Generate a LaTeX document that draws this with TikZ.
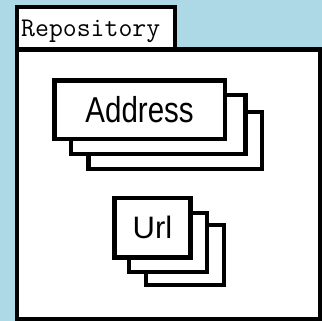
\documentclass[tikz,border=0pt]{standalone}
\usepackage{fontspec}
\newfontfamily\narrowsans[FakeStretch=0.82]{Liberation Sans}
\newfontfamily\plainsans{Liberation Sans}
\usepackage{tikz}
\definecolor{bgblue}{HTML}{ADD8E6}

\begin{document}
\begin{tikzpicture}[
  x=1pt, y=-1pt,
  sheet/.style={rectangle, draw=black, fill=white, line width=4.3pt, inner sep=0pt},
  frame/.style={rectangle, draw=black, fill=white, line width=4.2pt, inner sep=0pt},
  bigword/.style={font=\narrowsans\fontsize{36}{36}\selectfont},
  smallword/.style={font=\plainsans\fontsize{31}{31}\selectfont}
]

\fill[bgblue] (0,0) rectangle (322,321);
\useasboundingbox (0,0) rectangle (322,321);

% Repository frame
\node[frame, minimum width=158pt, minimum height=42.5pt] (tab) at (96,28.25) {};
\node[frame, minimum width=303pt, minimum height=269.5pt] (repo) at (168.5,184.25) {};
\node[anchor=base west, inner sep=0pt, font=\ttfamily\fontsize{27}{27}\selectfont] (title) at (21,36.7) {Repository};

% Address stack
\node[sheet, minimum width=173.7pt, minimum height=57pt] (addr3) at (175.2,140.5) {};
\node[sheet, minimum width=174.2pt, minimum height=59pt] (addr2) at (158.4,124.5) {};
\node[sheet, bigword, minimum width=170.2pt, minimum height=58.5pt] (addr1) at (139.6,109.75) {Address};

% Url stack
\node[sheet, minimum width=78pt, minimum height=59.7pt] (url3) at (185,254.9) {};
\node[sheet, minimum width=78pt, minimum height=59pt] (url2) at (168,242.5) {};
\node[sheet, smallword, minimum width=76pt, minimum height=59.2pt] (url1) at (152.5,227.9) {Url};

\end{tikzpicture}
\end{document}
